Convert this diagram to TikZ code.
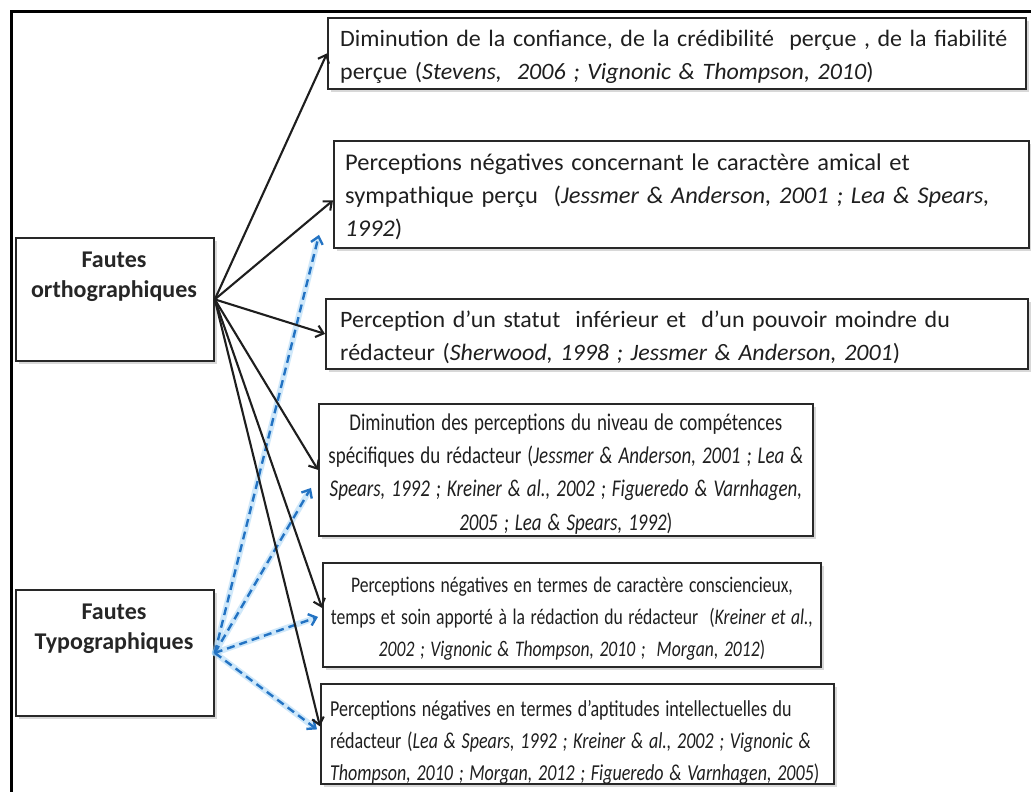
\documentclass[tikz,border=0pt]{standalone}
\usepackage{fontspec}
\setmainfont{Carlito}[FakeStretch=1.02, WordSpace=1.4]
\newfontfamily\narrowfont{Carlito}[FakeStretch=0.79, WordSpace=1.4]
\newfontfamily\labelfont{Carlito}
\usetikzlibrary{arrows.meta,shadows,calc}
\definecolor{lineblue}{RGB}{35,115,195}
\definecolor{glowblue}{RGB}{150,205,245}
\definecolor{boxline}{RGB}{40,40,40}
\definecolor{arrowblack}{RGB}{30,30,30}
\begin{document}
\begin{tikzpicture}[x=1pt,y=-1pt,
  box/.style={draw=boxline, line width=1.8pt, fill=white, anchor=north west,
    inner sep=0pt, drop shadow={shadow xshift=3pt, shadow yshift=-3pt, opacity=0.3}},
  txt/.style={inner sep=0pt, text=black!88, font=\fontsize{23.5}{33}\selectfont},
  ltxt/.style={txt, anchor=west, align=left},
  ctxt/.style={txt, anchor=center, align=center},
  lbl/.style={anchor=north, inner sep=0pt, align=center,
    font=\labelfont\bfseries\fontsize{24}{29.5}\selectfont, text=black!85},
  blk/.style={draw=arrowblack, line width=2.1pt,
    -{Straight Barb[length=7pt,width=12pt]}},
  blu/.style={draw=lineblue, line width=2.4pt, dash pattern=on 8pt off 5pt,
    -{Straight Barb[length=7pt,width=12pt]}},
  glow/.style={draw=glowblue, line width=6pt, opacity=0.45, line cap=round}]
\useasboundingbox (0,0) rectangle (1031,792);
\clip (0,0) rectangle (1031,792);
\fill[white] (0,0) rectangle (1031,792);
\draw[line width=3pt, black] (11,12) rectangle (1060,820);

% left boxes
\node[box, minimum width=198pt, minimum height=123pt] (o) at (15,237) {};
\node[lbl] (otxt) at (114,252) {Fautes\\orthographiques};
\node[box, minimum width=198pt, minimum height=126pt] (t) at (15,589) {};
\node[lbl] (ttxt) at (114,604) {Fautes\\Typographiques};

% right boxes (frames)
\node[box, minimum width=698pt, minimum height=71pt]  (b1) at (327,17) {};
\node[box, minimum width=695pt, minimum height=107pt] (b2) at (333,140) {};
\node[box, minimum width=702pt, minimum height=70pt]  (b3) at (325,298) {};
\node[box, minimum width=494pt, minimum height=132pt] (b4) at (318,403) {};
\node[box, minimum width=498pt, minimum height=104pt] (b5) at (322,562) {};
\node[box, minimum width=513pt, minimum height=100pt] (b6) at (320,683) {};

% texts
\node[ltxt] (t1) at ($(b1.west)+(13,3.5)$)
 {Diminution de la confiance, de la crédibilité~ perçue , de la fiabilité\\
  perçue (\textit{Stevens,~ 2006 ; Vignonic \& Thompson, 2010})};
\node[ltxt, font=\fontsize{24}{33}\selectfont] (t2) at ($(b2.west)+(12,2.5)$)
 {Perceptions négatives concernant le caractère amical et\\
  sympathique perçu~ (\textit{Jessmer \& Anderson, 2001 ; Lea \& Spears,}\\
  \textit{1992})};
\node[ltxt] (t3) at ($(b3.west)+(15,3)$)
 {Perception d’un statut~ inférieur et~ d’un pouvoir moindre du\\
  rédacteur (\textit{Sherwood, 1998 ; Jessmer \& Anderson, 2001})};
\node[ctxt, font=\narrowfont\fontsize{24}{33.3}\selectfont] (t4) at ($(b4.center)+(0,4)$)
 {Diminution des perceptions du niveau de compétences\\
  spécifiques du rédacteur (\textit{Jessmer \& Anderson, 2001 ; Lea \&}\\
  \textit{Spears, 1992 ; Kreiner \& al., 2002 ; Figueredo \& Varnhagen,}\\
  \textit{2005 ; Lea \& Spears, 1992})};
\node[ctxt, font=\narrowfont\fontsize{22.3}{32}\selectfont] (t5) at ($(b5.center)+(0,3.5)$)
 {Perceptions négatives en termes de caractère consciencieux,\\
  temps et soin apporté à la rédaction du rédacteur~ (\textit{Kreiner et al.,}\\
  \textit{2002 ; Vignonic \& Thompson, 2010 ;~ Morgan, 2012})};
\node[ltxt, font=\narrowfont\fontsize{22.8}{32}\selectfont] (t6) at ($(b6.west)+(10,8.5)$)
 {Perceptions négatives en termes d’aptitudes intellectuelles du\\
  rédacteur (\textit{Lea \& Spears, 1992 ; Kreiner \& al., 2002 ; Vignonic \&}\\
  \textit{Thompson, 2010 ; Morgan, 2012 ; Figueredo \& Varnhagen, 2005})};

% arrow end points
\coordinate (e2) at ($(b2.west)+(0,6)$);
\coordinate (e5) at ($(b5.west)+(0,-7)$);
\coordinate (e6) at ($(b6.west)+(0,-7.5)$);
\coordinate (u1) at ($(b2.south west)+(-14,-14)$);
\coordinate (u2) at ($(b4.west)+(-7,18)$);
\coordinate (u3) at ($(b5.west)+(-4,2)$);
\coordinate (u4) at ($(b6.west)+(-3,-4.5)$);

% blue glow
\foreach \p in {u1,u2,u3,u4}
  \draw[glow, shorten >=6pt] (t.east) -- (\p);
% blue dashed arrows
\draw[blu] (t.east) -- (u1);
\draw[blu] (t.east) -- (u2);
\draw[blu] (t.east) -- (u3);
\draw[blu] (t.east) -- (u4);

% black arrows
\draw[blk] (o.east) -- (b1.west);
\draw[blk] (o.east) -- (e2);
\draw[blk] (o.east) -- (b3.west);
\draw[blk] (o.east) -- (b4.west);
\draw[blk] (o.east) -- (e5);
\draw[blk] (o.east) -- (e6);
\end{tikzpicture}
\end{document}
